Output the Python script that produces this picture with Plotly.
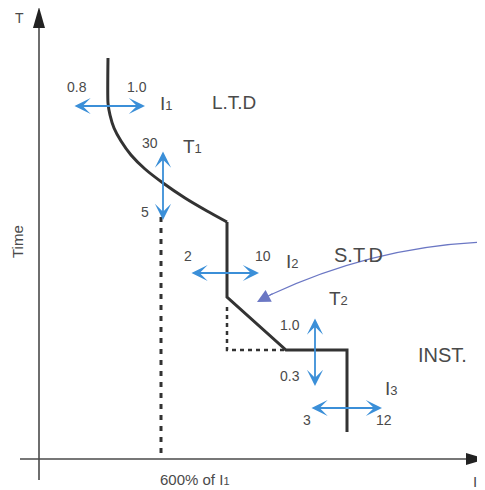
import plotly.graph_objects as go

# Trip curve (diagram coordinates, y grows downward)
ltd_x = [108, 108, 110, 114, 121, 131, 145, 163, 185, 207, 227]
ltd_y = [58, 103, 115, 128, 141, 155, 169, 183, 198, 211, 222]
std_x = [227, 227, 286, 347, 347]
std_y = [222, 297, 350, 350, 432]
dot1_x = [161, 161]
dot1_y = [217, 459]
dot2_x = [227, 227, 286]
dot2_y = [307, 350, 350]

# Blue adjustment arrows: (x0, y0, x1, y1)
adj_arrows = [
    (73, 106, 145, 106),   # I1
    (163, 150, 163, 220),  # T1
    (190, 273, 259, 273),  # I2
    (315, 317, 315, 386),  # T2
    (310, 408, 382, 408),  # I3
]

labels = [
    ("0.8", 77, 87, 14), ("1.0", 137, 87, 14),
    ("30", 150, 143, 14), ("5", 145, 212, 14),
    ("2", 188, 256, 14), ("10", 263, 256, 14),
    ("1.0", 290, 325, 14), ("0.3", 290, 376, 14),
    ("3", 307, 420, 14), ("12", 384, 420, 14),
    ("L.T.D", 234, 102, 19), ("S.T.D", 358, 255, 20), ("INST.", 442, 355, 20),
]
sym_labels = [
    ("I", "1", 166, 103), ("T", "1", 192, 146), ("I", "2", 292, 261),
    ("T", "2", 338, 298), ("I", "3", 391, 388),
]

DARK = "#333333"
AXIS = "#4a4a4a"
BLUE = "#3b8fd8"
TXT = "#4a4a4a"
FONT = "Liberation Sans, Arial, sans-serif"

fig = go.Figure()
fig.add_trace(go.Scatter(x=ltd_x, y=ltd_y, mode="lines", line=dict(color=DARK, width=3, shape="spline", smoothing=0.6), hoverinfo="skip"))
fig.add_trace(go.Scatter(x=std_x, y=std_y, mode="lines", line=dict(color=DARK, width=3), hoverinfo="skip"))
fig.add_trace(go.Scatter(x=dot1_x, y=dot1_y, mode="lines", line=dict(color=DARK, width=3, dash="5px,6px"), hoverinfo="skip"))
fig.add_trace(go.Scatter(x=dot2_x, y=dot2_y, mode="lines", line=dict(color=DARK, width=2.5, dash="4px,4px"), hoverinfo="skip"))

shapes = [
    # axes
    dict(type="line", x0=39, y0=480, x1=39, y1=24, xref="x", yref="y", line=dict(color=AXIS, width=1.6)),
    dict(type="line", x0=20, y0=459, x1=470, y1=459, xref="x", yref="y", line=dict(color=AXIS, width=1.6)),
    dict(type="path", path="M 39,7 L 33,28 L 45,28 Z", xref="x", yref="y", fillcolor="#222222", line=dict(width=0)),
    dict(type="path", path="M 486,459 L 466,453 L 466,465 Z", xref="x", yref="y", fillcolor="#222222", line=dict(width=0)),
    # curved pointer
    dict(type="path", path="M 486,242 Q 375,246 270,295", xref="x", yref="y", line=dict(color="#6b77c4", width=1.2)),
]

ann = []
for (x0, y0, x1, y1) in adj_arrows:
    ann.append(dict(x=x1, y=y1, ax=x0, ay=y0, xref="x", yref="y", axref="x", ayref="y", text="", showarrow=True,
                    arrowhead=3, startarrowhead=3, arrowside="end+start", arrowsize=1.5, startarrowsize=1.5,
                    arrowwidth=1.8, arrowcolor=BLUE, standoff=0, startstandoff=0))
ann.append(dict(x=257, y=302, ax=274, ay=293, xref="x", yref="y", axref="x", ayref="y", text="", showarrow=True,
                arrowhead=2, arrowsize=2.2, arrowwidth=1.2, arrowcolor="#6b77c4", standoff=0))
for t, x, y, s in labels:
    ann.append(dict(x=x, y=y, xref="x", yref="y", text=t, showarrow=False, font=dict(family=FONT, size=s, color=TXT)))
for a, b, x, y in sym_labels:
    ann.append(dict(x=x, y=y, xref="x", yref="y", text=f"{a}<span style='font-size:13px'>{b}</span>", showarrow=False,
                    font=dict(family=FONT, size=19, color=TXT)))
ann.append(dict(x=19, y=18, xref="x", yref="y", text="T", showarrow=False, font=dict(family=FONT, size=14, color=TXT)))
ann.append(dict(x=475, y=481, xref="x", yref="y", text="I", showarrow=False, font=dict(family=FONT, size=15, color=TXT)))
ann.append(dict(x=195, y=479, xref="x", yref="y", text="600% of I<span style='font-size:11px'>1</span>", showarrow=False,
                font=dict(family=FONT, size=15, color=TXT)))
ann.append(dict(x=17, y=242, xref="x", yref="y", text="Time", textangle=-90, showarrow=False,
                font=dict(family=FONT, size=15, color=TXT)))

# The page body has an 8px margin; shift the visible range so diagram coordinates match window pixels.
fig.update_layout(
    width=485, height=490, margin=dict(l=0, r=0, t=0, b=0),
    paper_bgcolor="white", plot_bgcolor="white", showlegend=False,
    xaxis=dict(range=[8, 493], visible=False, fixedrange=True),
    yaxis=dict(range=[498, 8], visible=False, fixedrange=True),
    annotations=ann, shapes=shapes,
)
fig.write_html("out.html")
